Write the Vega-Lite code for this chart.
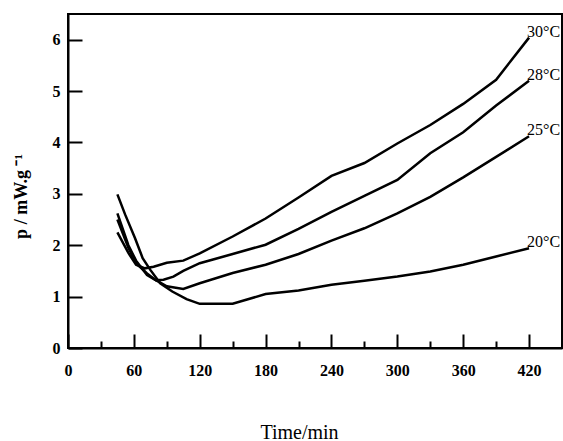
{
  "$schema": "https://vega.github.io/schema/vega-lite/v6.json",
  "width": 494,
  "height": 334,
  "autosize": "none",
  "padding": {"left": 68, "top": 14, "right": 1, "bottom": 93},
  "background": "white",
  "config": {
    "view": {"stroke": "black", "strokeWidth": 2},
    "font": "Liberation Serif"
  },
  "data": {
    "values": [
      {"T": "30°C", "t": 45, "p": 2.25},
      {"T": "30°C", "t": 55, "p": 1.85},
      {"T": "30°C", "t": 62, "p": 1.62},
      {"T": "30°C", "t": 70, "p": 1.55},
      {"T": "30°C", "t": 78, "p": 1.58},
      {"T": "30°C", "t": 90, "p": 1.66},
      {"T": "30°C", "t": 105, "p": 1.7},
      {"T": "30°C", "t": 120, "p": 1.84},
      {"T": "30°C", "t": 150, "p": 2.17},
      {"T": "30°C", "t": 180, "p": 2.52},
      {"T": "30°C", "t": 210, "p": 2.93},
      {"T": "30°C", "t": 240, "p": 3.35},
      {"T": "30°C", "t": 270, "p": 3.6},
      {"T": "30°C", "t": 300, "p": 3.98},
      {"T": "30°C", "t": 330, "p": 4.34},
      {"T": "30°C", "t": 360, "p": 4.75},
      {"T": "30°C", "t": 390, "p": 5.22},
      {"T": "30°C", "t": 420, "p": 6.04},
      {"T": "28°C", "t": 45, "p": 2.62},
      {"T": "28°C", "t": 55, "p": 2.0},
      {"T": "28°C", "t": 62, "p": 1.7},
      {"T": "28°C", "t": 72, "p": 1.42},
      {"T": "28°C", "t": 80, "p": 1.32},
      {"T": "28°C", "t": 87, "p": 1.33},
      {"T": "28°C", "t": 96, "p": 1.39},
      {"T": "28°C", "t": 105, "p": 1.5},
      {"T": "28°C", "t": 120, "p": 1.65},
      {"T": "28°C", "t": 150, "p": 1.83},
      {"T": "28°C", "t": 180, "p": 2.01},
      {"T": "28°C", "t": 210, "p": 2.32},
      {"T": "28°C", "t": 240, "p": 2.65},
      {"T": "28°C", "t": 270, "p": 2.96},
      {"T": "28°C", "t": 300, "p": 3.27},
      {"T": "28°C", "t": 330, "p": 3.79},
      {"T": "28°C", "t": 360, "p": 4.2},
      {"T": "28°C", "t": 390, "p": 4.72},
      {"T": "28°C", "t": 420, "p": 5.2},
      {"T": "25°C", "t": 45, "p": 2.5},
      {"T": "25°C", "t": 55, "p": 1.95},
      {"T": "25°C", "t": 62, "p": 1.65},
      {"T": "25°C", "t": 72, "p": 1.45},
      {"T": "25°C", "t": 80, "p": 1.32},
      {"T": "25°C", "t": 90, "p": 1.2},
      {"T": "25°C", "t": 105, "p": 1.15},
      {"T": "25°C", "t": 120, "p": 1.26},
      {"T": "25°C", "t": 150, "p": 1.46},
      {"T": "25°C", "t": 180, "p": 1.62},
      {"T": "25°C", "t": 210, "p": 1.83},
      {"T": "25°C", "t": 240, "p": 2.09},
      {"T": "25°C", "t": 270, "p": 2.33},
      {"T": "25°C", "t": 300, "p": 2.62},
      {"T": "25°C", "t": 330, "p": 2.94},
      {"T": "25°C", "t": 360, "p": 3.32},
      {"T": "25°C", "t": 390, "p": 3.72},
      {"T": "25°C", "t": 420, "p": 4.12},
      {"T": "20°C", "t": 45, "p": 2.99},
      {"T": "20°C", "t": 52, "p": 2.6},
      {"T": "20°C", "t": 61, "p": 2.14},
      {"T": "20°C", "t": 68, "p": 1.75},
      {"T": "20°C", "t": 75, "p": 1.52},
      {"T": "20°C", "t": 84, "p": 1.26},
      {"T": "20°C", "t": 95, "p": 1.1},
      {"T": "20°C", "t": 108, "p": 0.95},
      {"T": "20°C", "t": 120, "p": 0.86},
      {"T": "20°C", "t": 150, "p": 0.86},
      {"T": "20°C", "t": 180, "p": 1.05},
      {"T": "20°C", "t": 210, "p": 1.12},
      {"T": "20°C", "t": 240, "p": 1.23},
      {"T": "20°C", "t": 270, "p": 1.31},
      {"T": "20°C", "t": 300, "p": 1.39},
      {"T": "20°C", "t": 330, "p": 1.49},
      {"T": "20°C", "t": 360, "p": 1.62},
      {"T": "20°C", "t": 390, "p": 1.78},
      {"T": "20°C", "t": 420, "p": 1.94}
    ]
  },
  "encoding": {
    "x": {
      "field": "t", "type": "quantitative",
      "scale": {"domain": [0, 450], "nice": false, "zero": false},
      "axis": {
        "title": "Time/min",
        "values": [0, 30, 60, 90, 120, 150, 180, 210, 240, 270, 300, 330, 360, 390, 420],
        "format": "d",
        "labelExpr": "datum.value % 60 === 0 ? datum.label : ''",
        "grid": false,
        "domainColor": "black", "domainWidth": 2,
        "tickColor": "black", "tickWidth": 2,
        "tickSize": {"condition": {"test": "datum.value % 60 === 0", "value": -14}, "value": -7},
        "labelFont": "Liberation Serif", "labelFontSize": 16, "labelFontWeight": "bold", "labelColor": "black",
        "labelPadding": 28,
        "labelFlush": false,
        "titleFont": "Liberation Serif", "titleFontSize": 20, "titleFontWeight": "normal", "titleColor": "black",
        "titlePadding": 44,
        "titleX": 231
      }
    },
    "y": {
      "field": "p", "type": "quantitative",
      "scale": {"domain": [0, 6.5], "nice": false},
      "axis": {
        "title": "p / mW.g ⁻¹",
        "values": [0, 0.5, 1, 1.5, 2, 2.5, 3, 3.5, 4, 4.5, 5, 5.5, 6],
        "format": "d",
        "labelExpr": "datum.value % 1 === 0 ? datum.label : ''",
        "grid": false,
        "domainColor": "black", "domainWidth": 2,
        "tickColor": "black", "tickWidth": 2,
        "tickSize": {"condition": {"test": "datum.value % 1 === 0", "value": -14}, "value": -7},
        "labelFont": "Liberation Serif", "labelFontSize": 16, "labelFontWeight": "bold", "labelColor": "black",
        "labelPadding": 22,
        "labelFlush": false,
        "titleFont": "Liberation Serif", "titleFontSize": 18, "titleFontWeight": "bold", "titleColor": "black",
        "titlePadding": 22,
        "titleY": 182
      }
    }
  },
  "layer": [
    {
      "mark": {"type": "line", "color": "black", "strokeWidth": 2.5},
      "encoding": {"detail": {"field": "T"}}
    },
    {
      "transform": [{"filter": "datum.t === 420"}],
      "mark": {"type": "text", "align": "left", "baseline": "alphabetic", "dx": -2, "dy": -1, "fontSize": 16, "font": "Liberation Serif", "color": "black"},
      "encoding": {"text": {"field": "T"}}
    }
  ]
}
